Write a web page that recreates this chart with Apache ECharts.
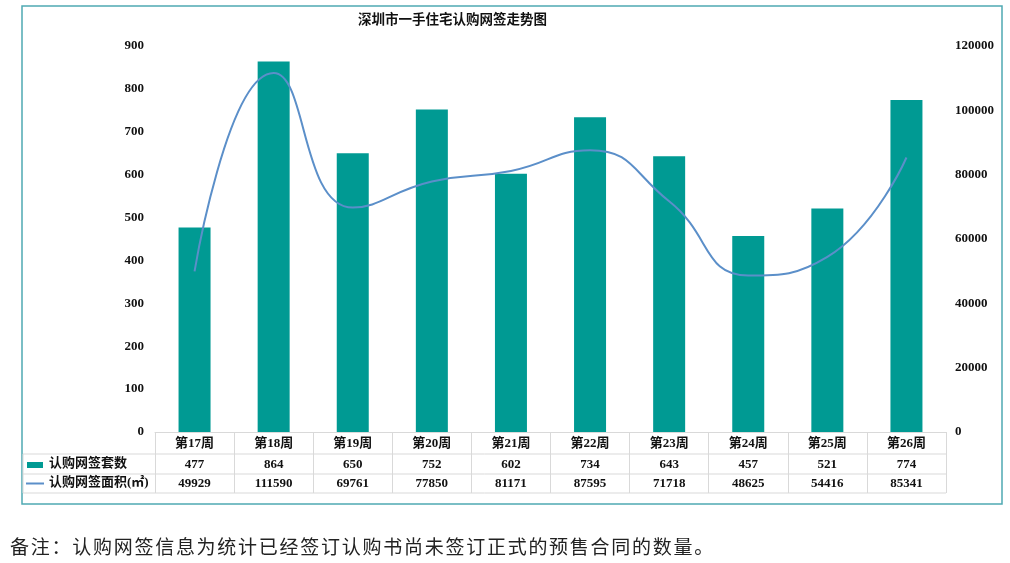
<!DOCTYPE html>
<html><head><meta charset="utf-8">
<script src="https://cdn.jsdelivr.net/npm/echarts@6/dist/echarts.min.js"></script>
<style>html,body{margin:0;padding:0;background:#fff}
#wrap{position:relative;width:1010px;height:563px}
#c{width:1010px;height:563px}
#note{position:absolute;left:10px;top:532px;font:19px "Noto Sans CJK SC",sans-serif;letter-spacing:0.6px;color:#222;white-space:nowrap}
</style>
</head><body><div id="wrap"><div id="c"></div><div id="note"></div></div>
<script>
var weeks = ['第17周','第18周','第19周','第20周','第21周','第22周','第23周','第24周','第25周','第26周'];
var counts = [477, 864, 650, 752, 602, 734, 643, 457, 521, 774];
var areas = [49929, 111590, 69761, 77850, 81171, 87595, 71718, 48625, 54416, 85341];
var leftTicks = [0, 900, 100];
var rightTicks = [0, 120000, 20000];
var seriesNames = ['认购网签套数', '认购网签面积(㎡)'];
var titleText = '深圳市一手住宅认购网签走势图';
var noteText = '备注：认购网签信息为统计已经签订认购书尚未签订正式的预售合同的数量。';

document.getElementById('note').textContent = noteText;
var FONT = '"Liberation Serif", "Noto Sans CJK SC", serif';
var BAR = '#009a93';
var LINE = '#5b8fc9';
var GRIDC = '#d9d9d9';
var chart = echarts.init(document.getElementById('c'));
var lbl = {fontFamily: FONT, fontWeight: 'bold', fontSize: 13, color: '#111'};
function tableAxis(data, offset, margin, ticks) {
  return {
    type: 'category', data: data, position: 'bottom', offset: offset,
    axisLine: {show: offset === 0, lineStyle: {color: GRIDC}},
    axisTick: {show: ticks, interval: 0, length: 61, lineStyle: {color: GRIDC}},
    axisLabel: Object.assign({interval: 0, margin: margin}, lbl),
    splitLine: {show: false}
  };
}
var L = 23, G = 155, R = 946;
function hline(y, x1) {
  return {type: 'line', shape: {x1: x1, y1: y, x2: R, y2: y}, style: {stroke: GRIDC, lineWidth: 1}};
}
chart.setOption({
  backgroundColor: '#fff',
  animation: false,
  grid: {left: G, right: 1010 - R, top: 46, bottom: 131},
  xAxis: [
    tableAxis(weeks, 0, 5, true),
    tableAxis(counts.map(String), 22, 4, false),
    tableAxis(areas.map(String), 42, 3, false)
  ],
  yAxis: [
    {type: 'value', min: leftTicks[0], max: leftTicks[1], interval: leftTicks[2],
     axisLine: {show: false}, axisTick: {show: false}, splitLine: {show: false},
     axisLabel: Object.assign({margin: 11}, lbl)},
    {type: 'value', min: rightTicks[0], max: rightTicks[1], interval: rightTicks[2], position: 'right',
     axisLine: {show: false}, axisTick: {show: false}, splitLine: {show: false},
     axisLabel: Object.assign({margin: 9, formatter: function (v) { return String(v); }}, lbl)}
  ],
  series: [
    {name: seriesNames[0], type: 'bar', data: counts, xAxisIndex: 0, yAxisIndex: 0,
     barWidth: 32, itemStyle: {color: BAR}},
    {name: seriesNames[1], type: 'line', data: areas, xAxisIndex: 0, yAxisIndex: 1,
     smooth: 0.5, showSymbol: false, symbol: 'none', lineStyle: {color: LINE, width: 2}}
  ],
  graphic: [
    {type: 'rect', shape: {x: 22, y: 6, width: 980, height: 498},
     style: {fill: 'none', stroke: '#4fa9b3', lineWidth: 1.5}, z: 0},
    {type: 'text', left: 358, top: 14,
     style: {text: titleText, font: 'bold 13.5px ' + FONT, fill: '#111'}},
    hline(454, L), hline(474, L), hline(493, L),
    {type: 'line', shape: {x1: L, y1: 454, x2: L, y2: 493}, style: {stroke: GRIDC, lineWidth: 1}},
    {type: 'rect', shape: {x: 27, y: 462, width: 16, height: 6}, style: {fill: BAR}},
    {type: 'line', shape: {x1: 26, y1: 483.5, x2: 44, y2: 483.5}, style: {stroke: LINE, lineWidth: 2}},
    {type: 'text', left: 49, top: 457,
     style: {text: seriesNames[0], font: 'bold 13px ' + FONT, fill: '#111'}},
    {type: 'text', left: 49, top: 476,
     style: {text: seriesNames[1], font: 'bold 13px ' + FONT, fill: '#111'}}
  ]
});
(function fit() {
  var n = document.getElementById('note');
  var w = n.getBoundingClientRect().width;
  var target = 705;
  var chars = noteText.length;
  n.style.letterSpacing = (0.6 + (target - w) / chars) + 'px';
})();
</script></body></html>
